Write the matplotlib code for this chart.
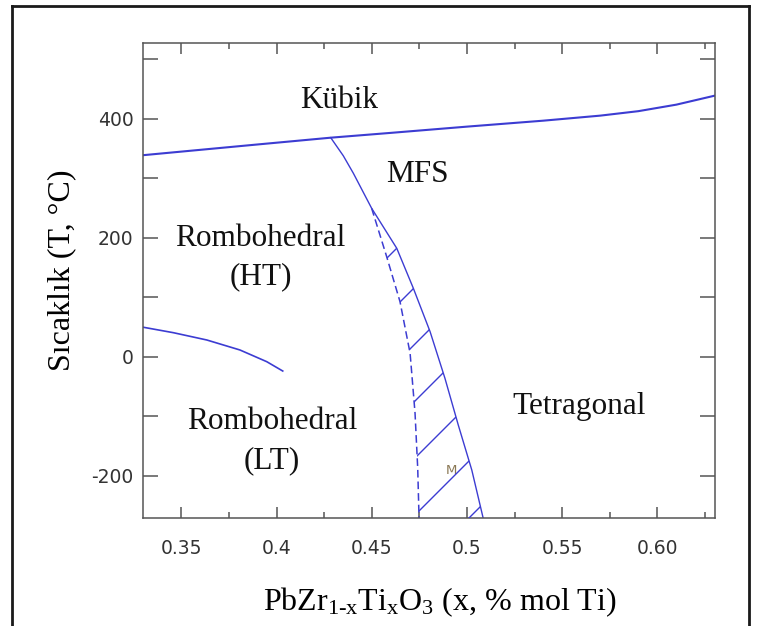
import numpy as np
import matplotlib
matplotlib.use("Agg")
import matplotlib.pyplot as plt
from matplotlib.transforms import IdentityTransform
from matplotlib.lines import Line2D
from matplotlib.ticker import MultipleLocator, FixedLocator, FixedFormatter, FuncFormatter

# ---------------- data ----------------
# Curie line (cubic boundary)
curie_x = [0.33, 0.36, 0.39, 0.4284, 0.46, 0.50, 0.54, 0.57, 0.59, 0.61, 0.63]
curie_t = [339, 348, 357, 368.4, 376.5, 387, 397, 405.5, 413, 424, 439]

# Morphotropic phase boundary (solid)
mpb_x = [0.4284, 0.4350, 0.4403, 0.4499, 0.4631, 0.4718, 0.4806, 0.4884, 0.4954, 0.5025, 0.5085]
mpb_t = [368.4, 338, 308.5, 249.6, 182.3, 115.1, 42.1, -36.3, -114.9, -190.6, -271.8]

# Monoclinic boundary (dashed)
mono_x = [0.4499, 0.4578, 0.4648, 0.4701, 0.4727, 0.4741, 0.4748]
mono_t = [249.6, 168.2, 92.5, 5.7, -95.2, -187.7, -271.8]

# Rhombohedral HT / LT boundary
rlt_x = [0.33, 0.3457, 0.3633, 0.3807, 0.3948, 0.4032]
rlt_t = [49.5, 40.4, 28.1, 11.3, -8.4, -24.1]

x_ticks = [0.35, 0.40, 0.45, 0.50, 0.55, 0.60]
x_labels = ["0.35", "0.4", "0.45", "0.5", "0.55", "0.60"]

# ---------------- figure ----------------
W, H = 757, 626
fig = plt.figure(figsize=(W / 100, H / 100), dpi=100)
fig.patch.set_facecolor("white")
ax = fig.add_axes([143.4 / W, (H - 517.8) / H, 571.1 / W, 474.7 / H])

blue = "#3c3cd2"
serif = "Liberation Serif"
plt.rcParams["mathtext.fontset"] = "custom"
plt.rcParams["mathtext.rm"] = serif
plt.rcParams["mathtext.it"] = serif + ":italic"

ax.plot(curie_x, curie_t, color=blue, lw=1.5)
ax.plot(mpb_x, mpb_t, color=blue, lw=1.0)
ax.plot(mono_x, mono_t, color=blue, lw=1.1, dashes=(5, 2.6))
ax.plot(rlt_x, rlt_t, color=blue, lw=1.2)

ax.set_xlim(0.33, 0.63)
ax.set_ylim(-271, 527.5)

# band between dashed and solid boundary (monoclinic region) -> hatched
yy = np.linspace(-275, mono_t[0], 400)
xl = np.interp(yy, mono_t[::-1], mono_x[::-1])
xr = np.interp(yy, mpb_t[::-1], mpb_x[::-1])
band = ax.fill_betweenx(yy, xl, xr, facecolor="none", edgecolor="none")
clip_path = band.get_paths()[0]
for c in 645 + 57 * np.arange(7):
    xs = np.array([300.0, 620.0])
    ys = xs + H - c
    ln = Line2D(xs, ys, transform=IdentityTransform(), color=blue, lw=1.0)
    ln.set_clip_path(clip_path, ax.transData)
    ln.set_clip_box(ax.bbox)
    fig.add_artist(ln)

# ---------------- axes styling ----------------
spine_c = "#555555"
for s in ax.spines.values():
    s.set_color(spine_c)
    s.set_linewidth(1.1)

ax.xaxis.set_major_locator(FixedLocator(x_ticks))
ax.xaxis.set_major_formatter(FixedFormatter(x_labels))
ax.xaxis.set_minor_locator(MultipleLocator(0.025))
ax.yaxis.set_major_locator(MultipleLocator(100))
ax.yaxis.set_major_formatter(FuncFormatter(
    lambda v, p: f"{int(round(v))}" if int(round(v)) % 200 == 0 else ""))

ax.tick_params(axis="both", which="both", direction="in", top=True, right=True,
               color=spine_c, width=1.1, labelcolor="#333333")
ax.tick_params(axis="x", which="major", length=8, pad=15, labelsize=13.5)
ax.tick_params(axis="x", which="minor", length=4)
ax.tick_params(axis="y", which="major", length=10.5, pad=7, labelsize=13.5)
for lab in ax.get_xticklabels() + ax.get_yticklabels():
    lab.set_family("DejaVu Sans")

# axis labels
ax.text(0.5185, -0.194, r"PbZr$_{\mathrm{1\text{-}x}}$Ti$_{\mathrm{x}}$O$_{\mathrm{3}}$ (x, % mol Ti)",
        transform=ax.transAxes, ha="center", va="baseline", fontsize=23, family=serif)
ax.text(-0.1425, 0.522, "Sıcaklık (T, °C)", transform=ax.transAxes, rotation=90,
        ha="center", va="center", fontsize=23, family=serif)

# phase labels
lab_kw = dict(transform=ax.transAxes, ha="center", va="baseline", fontsize=22.5,
              family=serif, color="#111111")
ax.text(0.3425, 0.8635, "Kübik", **lab_kw)
ax.text(0.479, 0.708, "MFS", **lab_kw)
ax.text(0.204, 0.5736, "Rombohedral", **lab_kw)
ax.text(0.206, 0.4925, "(HT)", **lab_kw)
ax.text(0.2252, 0.187, "Rombohedral", **lab_kw)
ax.text(0.2243, 0.105, "(LT)", **lab_kw)
ax.text(0.7627, 0.2187, "Tetragonal", **lab_kw)
ax.text(0.540, 0.0996, "M", transform=ax.transAxes, ha="center", va="center",
        fontsize=9.5, family="DejaVu Sans", color="#8a7855")

# outer frame (open at the bottom)
frame_kw = dict(transform=IdentityTransform(), color="#1a1a1a", lw=2.0,
                solid_capstyle="projecting")
fig.add_artist(Line2D([12, 12], [0, H - 6], **frame_kw))
fig.add_artist(Line2D([12, 749], [H - 6, H - 6], **frame_kw))
fig.add_artist(Line2D([749, 749], [H - 6, 0], **frame_kw))

fig.savefig("out.png", dpi=100, facecolor="white")
